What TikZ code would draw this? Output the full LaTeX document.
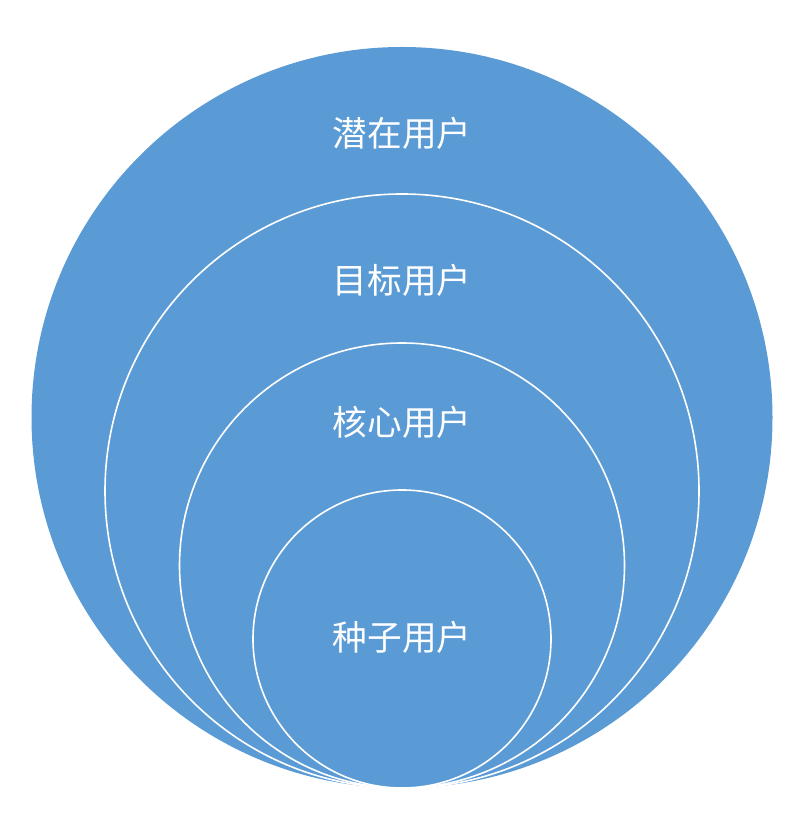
\documentclass[tikz,border=0pt]{standalone}
\usepackage{fontspec}
\newfontfamily\cjk{Noto Sans CJK SC}

\begin{document}
\begin{tikzpicture}[x=0.75pt, y=0.75pt,
  ring/.style={circle, draw=white, line width=1.2pt, fill=ringblue, inner sep=0pt},
  lbl/.style={text=white, font=\cjk\fontsize{26}{26}\selectfont}]

\definecolor{ringblue}{HTML}{5B9BD5}

% frame
\useasboundingbox (0,0) rectangle (800,817);

% circles
\fill[ringblue] (402,399.5) circle[radius=370.5];
\node[ring, minimum size=445.5pt] (target) at (402,326) {};
\node[ring, minimum size=333.75pt] (core) at (402,251.5) {};
\node[ring, minimum size=223.5pt] (seed) at (402,178) {};

% lables
\node[lbl] (potentialtxt) at (402,684) {潜在用户};
\node[lbl] (targettxt) at (402,537) {目标用户};
\node[lbl] (coretxt) at (402,395) {核心用户};
\node[lbl] (seedtxt) at (402,180) {种子用户};

\end{tikzpicture}
\end{document}
